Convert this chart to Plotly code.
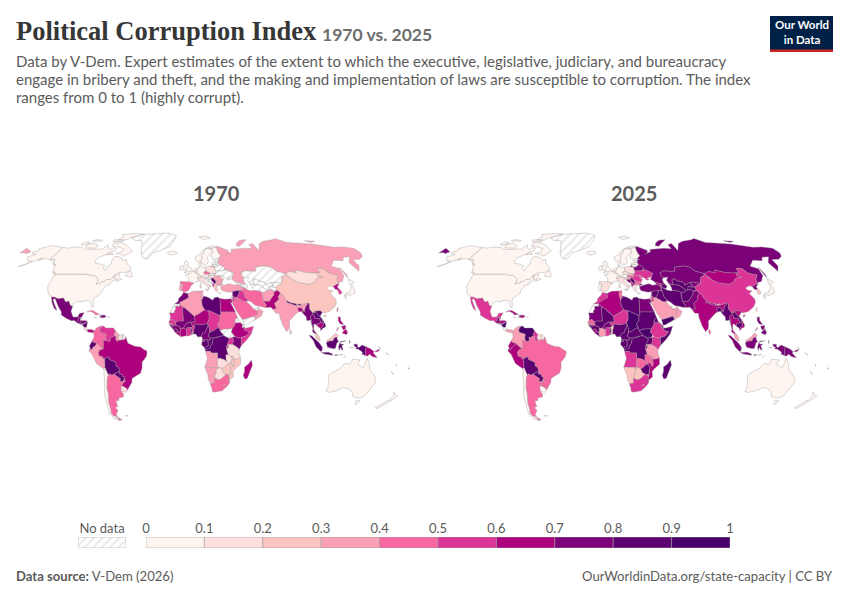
#!/usr/bin/env python3
"""Political Corruption Index, 1970 vs. 2025, as two small world maps"""

import numpy as np
import plotly.graph_objects as go

# Value per country (None = no data)
COUNTRIES = ["USA", "CAN", "GRL", "MEX", "GTM", "BLZ", "HND", "SLV", "NIC", "CRI", "PAN", "CUB", "HTI", "DOM", "JAM", "PRI",
             "COL", "VEN", "GUY", "SUR", "GUF", "ECU", "PER", "BRA", "BOL", "PRY", "CHL", "ARG", "URY", "FLK",
             "ISL", "IRL", "GBR", "FRA", "ESP", "PRT", "BEL", "NLD", "DEU", "DNK", "CHE", "AUT", "ITA", "POL", "CZE", "SVK",
             "HUN", "SVN", "HRV", "BIH", "SRB", "MNE", "MKD", "ALB", "GRC", "BGR", "ROU", "MDA", "UKR", "BLR", "LTU", "LVA",
             "EST", "NOR", "SWE", "FIN", "TUR", "GEO", "ARM", "AZE", "RUS", "KAZ", "UZB", "TKM", "KGZ", "TJK", "AFG", "PAK",
             "IRN", "IRQ", "SYR", "LBN", "ISR", "JOR", "SAU", "YEM", "OMN", "ARE", "KWT", "QAT", "IND", "NPL", "BTN", "BGD",
             "LKA", "CHN", "TWN", "MNG", "PRK", "KOR", "JPN", "MMR", "THA", "LAO", "VNM", "KHM", "MYS", "IDN", "PNG", "PHL",
             "SLB", "VUT", "NCL", "FJI", "AUS", "NZL",
             "MAR", "ESH", "MRT", "DZA", "TUN", "LBY", "EGY", "SDN", "TCD", "NER", "MLI", "SEN", "GMB", "GNB", "GIN", "SLE",
             "LBR", "CIV", "GHA", "BFA", "TGO", "BEN", "NGA", "CMR", "CAF", "GNQ", "GAB", "COG", "COD", "UGA", "RWA", "BDI",
             "KEN", "TZA", "SSD", "ETH", "ERI", "DJI", "SOM", "AGO", "ZMB", "MWI", "MOZ", "ZWE", "BWA", "NAM", "ZAF", "LSO",
             "SWZ", "MDG"]
VALUES_1970 = [.05, .05, None, .75, .75, None, .75, .75, .85, .15, .65, .45, .85, .7, .45, None,
               .45, .55, .35, .15, .05, .85, .35, .65, .85, .85, .05, .45, .15, None,
               .05, .05, .05, .05, .45, .35, .05, .05, .05, .05, .05, .05, .15, .15, .45, None,
               .15, None, None, None, .85, None, None, .55, .25, .35, .35, None, None, None, None, None,
               None, .05, .05, .05, .35, None, None, None, .35, None, None, None, None, None, .35, .65,
               .45, .55, .85, .55, .15, .55, .45, None, .35, None, None, None, .35, .85, .85, .65,
               .25, .25, .45, .15, .65, .55, .05, .75, .75, .85, .85, .65, .25, .85, .65, .65,
               None, None, .05, .4, .05, .05,
               .75, None, .55, .35, .35, .85, .65, .45, .55, .65, .75, .55, .45, .75, .75, .75,
               .65, .65, .55, .75, .75, .55, .85, .75, .85, .75, .85, .85, .85, .55, .55, .55,
               .75, .15, None, .65, None, None, .55, .35, .15, .25, .25, .25, .15, .35, .45, .35,
               .3, .65]
VALUES_2025 = [.05, .05, None, .55, .75, .35, .65, .55, .95, .05, .35, .65, .75, .6, .45, None,
               .35, .95, .55, .15, .05, .65, .65, .45, .85, .85, .05, .45, .05, None,
               .05, .05, .05, .05, .15, .05, .05, .05, .05, .05, .05, .05, .1, .1, .1, .25,
               .45, .05, .25, .75, .85, .55, .65, .65, .15, .45, .55, .45, .55, .75, .05, .05,
               .05, .05, .05, .05, .75, .6, .55, .8, .75, .75, .8, .85, .75, .85, .85, .75,
               .8, .8, .8, .7, .3, .5, .35, .95, .3, .3, .3, .3, .65, .6, .25, .85,
               .4, .55, .05, .65, .75, .25, .05, .85, .65, .85, .6, .85, .35, .75, .75, .75,
               .6, .35, .05, .35, .05, .05,
               .55, None, .75, .65, .45, .85, .75, .85, .95, .55, .85, .4, .55, .85, .85, .6,
               .7, .3, .5, .75, .85, .25, .85, .85, .8, .95, .8, .85, .85, .8, .5, .8,
               .55, .35, .9, .55, .85, .8, .8, .55, .45, .4, .65, .85, .25, .25, .55, .4,
               .8, .85]

# Country outlines: "lon,lat lon,lat ..." one string per landmass (no map files can be fetched)
OUTLINES = {
    "USA": ["-124.7,48.4 -123,49 -95.2,49 -94.6,48.7 -92,48.3 -89.6,48 -88.4,48.3 -84.9,46.9 -84.5,46.5 -83.5,46 -82.5,45.3 -82.1,43.5 -82.5,42.6 -83.1,42 -82.7,41.7 -79,42.7 -79,43.4 -76.5,43.6 -76.3,44.2 -75,45 -71.5,45 -70.8,45.4 -70,46.7 -69.2,47.4 -68.3,47.3 -67.8,47 -67.8,45.7 -67,44.9 -70,43.7 -70.8,42.8 -70,41.7 -72,41.2 -74,40.6 -74.2,39.6 -75.5,38.2 -76,37 -75.7,35.4 -77.8,34 -79.2,33.1 -81.2,31.5 -81.4,30.3 -80.2,26.8 -80.4,25.2 -81.2,25.3 -82.7,27.8 -82.8,29 -84.2,30 -85.6,29.8 -88,30.3 -89.5,30.2 -89.3,29.1 -91,29.2 -94,29.6 -97,28 -97.2,26 -99.2,26.5 -101.4,29.7 -103,29 -104.5,29.6 -106.5,31.8 -108.2,31.8 -108.2,31.3 -111,31.3 -114.8,32.5 -117.1,32.5 -118.4,34 -120.6,34.6 -122,36.8 -123.8,39.5 -124.3,40.4 -124,43 -124,46.2",
            "-141,69.6 -141,60.3 -139,60 -135.5,59.7 -133.5,57 -130,55.9 -131.5,55.3 -134.5,57.5 -137,58.5 -140,59.7 -146,60.7 -149,60.2 -151.7,59.2 -150,61.2 -154,58.8 -157,57.6 -162,55 -164.8,54.6 -160,56.3 -157.5,58.7 -162,59 -165,61 -166,62 -161,64 -166,64.6 -168,65.6 -163,66.5 -166,68.5 -162,70 -156.5,71.3 -150,70.5",
            "-156,20.2 -155,19.6 -155.8,19 -156,19.7"],
    "CAN": ["-141,69.6 -135,69 -128,70 -120,69.5 -115,68 -108,68 -100,68 -96,68.3 -94,72 -90,69 -87,68 -85,69.5 -81.5,69 -81,67 -87,64.5 -93,61.5 -94.7,58.9 -92.5,57 -88,56.5 -82.5,55.2 -82.2,52.9 -79.5,51.4 -79,54.5 -76.7,56.5 -78.3,58.7 -77.5,62.4 -73,62 -69.5,61 -66,58.8 -64.5,60.3 -61.5,56.5 -57.5,54.5 -55.7,52.5 -60,50.2 -66.5,50.2 -70,47.4 -65,49.2 -64.5,48 -65,47 -64,46 -61,45.2 -66,43.6 -64.8,45.3 -67,44.9 -67.8,45.7 -67.8,47 -68.3,47.3 -69.2,47.4 -70,46.7 -70.8,45.4 -71.5,45 -75,45 -76.3,44.2 -76.5,43.6 -79,43.4 -79,42.7 -82.7,41.7 -83.1,42 -82.5,42.6 -82.1,43.5 -82.5,45.3 -83.5,46 -84.5,46.5 -84.9,46.9 -88.4,48.3 -89.6,48 -92,48.3 -94.6,48.7 -95.2,49 -123,49 -124.7,49.8 -127.5,51 -130,54.5 -130,55.9 -133.5,57 -135.5,59.7 -139,60 -141,60.3",
            "-123.4,48.4 -125,48.8 -128.3,50.7 -125.5,50.3", "-59.3,47.6 -53,46.7 -52.8,47.7 -55.5,51.5 -57.5,50.7",
            "-62,66.5 -68,62.5 -72,63.8 -78,64.5 -73,66 -73,68.5 -80,70 -88,71 -89,73.5 -80,73.7 -72,71.5 -67,69",
            "-105,69 -115,69.2 -117,70.5 -118,72.5 -110,73 -104,71", "-125,71.9 -120,71.5 -116,73.3 -119,74.3 -124,74",
            "-62,82.5 -75,83 -90,81.8 -85,79.5 -88,76.5 -78,76.3 -76,78 -70,80", "-80,74.8 -92,74.8 -92,76.5 -80,75.8",
            "-106,75 -117,75.2 -115,76.5 -106,76", "-80,64 -87,63.5 -85,65.5"],
    "GRL": ["-73,78.2 -66,81 -60,82 -45,82.5 -32,83.5 -22,82 -18,80 -19,76 -22,72 -22,70.5 -27,68.5 -33,66.8 -40,65 -43,60 -48,61 -52,65 -54,70 -58,75.5 -68,76"],
    "MEX": ["-117.1,32.5 -114.8,32.5 -111,31.3 -108.2,31.3 -108.2,31.8 -106.5,31.8 -104.5,29.6 -103,29 -101.4,29.7 -99.2,26.5 -97.2,26 -97.8,22.5 -95.8,18.8 -94.5,18.2 -91.5,18.6 -90.5,21 -87,21.5 -87.7,18.5 -88.3,18.5 -89.1,17.9 -91,17.8 -91,16 -92.2,14.6 -94,16 -96.5,15.7 -101,17.5 -105.5,20 -105.6,22 -109.2,26 -113,31 -114.7,31.5 -114.5,30 -110,24 -109.5,23 -112,24.5 -115,28.5 -116.5,31.5"],
    "GTM": ["-92.2,14.6 -91,16 -91,17.8 -89.1,17.9 -89.2,15.9 -88.2,15.7 -89.3,14.4 -90.1,13.8"],
    "BLZ": ["-89.1,17.9 -88.3,18.5 -88.2,16.5 -89.2,15.9"],
    "HND": ["-89.2,15.9 -88.2,15.7 -85,16 -83.2,15 -84.5,14.7 -87.3,13 -87.8,13.2 -87.8,13.9 -89.3,14.4"],
    "SLV": ["-90.1,13.8 -89.3,14.4 -87.8,13.9 -87.8,13.2 -89.5,13.4"],
    "NIC": ["-87.3,13 -84.5,14.7 -83.2,15 -83.7,11 -85.7,11.1"],
    "CRI": ["-85.7,11.1 -83.7,11 -82.6,9.6 -83,8.3 -85.7,9.9"],
    "PAN": ["-83,8.3 -82.6,9.6 -79.5,9.6 -77.4,8.7 -77.9,7.2 -80.4,7.3 -81.7,7.7"],
    "CUB": ["-84.9,21.9 -82.5,23.1 -80,23 -75,20.7 -74.2,20.2 -77.7,19.9 -78.5,21 -82,22.4"],
    "HTI": ["-74.4,18.4 -72,18.1 -71.7,19.8 -72.8,20 -73.5,19.7 -72.7,18.9"],
    "DOM": ["-72,18.1 -71.4,17.7 -68.4,18.6 -69.9,19.7 -71.7,19.8"],
    "JAM": ["-78.3,18.4 -76.3,17.9 -76.9,18.4"],
    "PRI": ["-67.2,18.5 -65.7,18.3 -66,18 -67.2,18"],
    "COL": ["-77.4,8.7 -75.6,10.6 -72,12.2 -71.3,11.8 -72.9,9.6 -72.3,7.4 -70,7 -67.4,6.2 -67.8,3.8 -67.3,1.7 -70,1.7 -69.5,-0.5 -69.9,-4.2 -70.8,-3.8 -72.9,-2.4 -75.2,-0.1 -77.5,0.4 -78.8,1.4 -77.3,3.9 -77.5,7 -77.9,7.2"],
    "VEN": ["-71.3,11.8 -70,12.1 -68.2,10.6 -66,10.6 -62,10.7 -60,8.5 -60.7,7.5 -61.2,5.9 -60.7,5.2 -63,3.9 -64.5,4 -64,1.8 -65.5,0.8 -67.3,1.7 -67.8,3.8 -67.4,6.2 -70,7 -72.3,7.4 -72.9,9.6"],
    "GUY": ["-60,8.5 -57.2,5.9 -58,4 -56.9,1.9 -58.8,1.2 -59.8,2.3 -59.8,4.5 -60.7,5.2 -61.2,5.9 -60.7,7.5"],
    "SUR": ["-57.2,5.9 -54,5.9 -54.1,3.5 -54.5,2.3 -56.9,1.9 -58,4"],
    "GUF": ["-54,5.9 -51.7,4.2 -52.6,2.4 -54.5,2.3 -54.1,3.5"],
    "ECU": ["-78.8,1.4 -77.5,0.4 -75.2,-0.1 -75.5,-1.5 -78.3,-3.4 -79,-5 -80.4,-4.4 -80.3,-3.4 -81,-2.2 -80,0"],
    "PER": ["-80.4,-4.4 -79,-5 -78.3,-3.4 -75.5,-1.5 -75.2,-0.1 -72.9,-2.4 -70.8,-3.8 -69.9,-4.2 -72.9,-5.1 -73.9,-7.3 -73,-9.4 -70.5,-9.5 -70.5,-11 -69,-11 -69.2,-15.3 -69.4,-17.5 -70.4,-18.3 -76,-14.5 -79,-8 -81.3,-5.8 -81.3,-4.3"],
    "BRA": ["-51.7,4.2 -50,1 -50,-0.2 -44.5,-2.3 -40,-2.8 -37,-4.8 -35,-5.5 -34.8,-7.5 -35.4,-9.5 -37.5,-12 -39,-13.5 -39.2,-17.5 -40.8,-21.5 -44,-23 -48,-25.2 -48.6,-28 -52,-32.2 -53.4,-33.7 -53.2,-32.5 -55.6,-30.9 -57.6,-30.2 -55,-27.5 -53.8,-27.1 -54.6,-25.6 -54.3,-24 -55.4,-24 -55.8,-22.3 -58,-22 -57.9,-20 -58.2,-17.3 -60.2,-16.3 -60.3,-13.7 -65.3,-11.7 -65.4,-9.8 -69,-11 -70.5,-11 -70.5,-9.5 -73,-9.4 -73.9,-7.3 -72.9,-5.1 -69.9,-4.2 -69.5,-0.5 -70,1.7 -67.3,1.7 -65.5,0.8 -64,1.8 -64.5,4 -63,3.9 -60.7,5.2 -59.8,4.5 -59.8,2.3 -58.8,1.2 -56.9,1.9 -54.5,2.3 -52.6,2.4"],
    "BOL": ["-69,-11 -65.4,-9.8 -65.3,-11.7 -60.3,-13.7 -60.2,-16.3 -58.2,-17.3 -57.9,-20 -62.6,-22.2 -64.3,-22.8 -66.3,-21.8 -67.2,-22.8 -68.6,-19.8 -69.4,-17.5 -69.2,-15.3"],
    "PRY": ["-57.9,-20 -58,-22 -55.8,-22.3 -55.4,-24 -54.3,-24 -54.6,-25.6 -55.8,-27.4 -58.6,-27.3 -57.6,-25.3 -60,-24 -62.6,-22.2"],
    "CHL": ["-69.4,-17.5 -68.6,-19.8 -67.2,-22.8 -68.3,-24.5 -70,-32 -70,-36 -71.7,-42 -72,-47 -73,-50 -72,-52 -68.4,-52.3 -71,-53.6 -68.6,-53 -68.6,-54.9 -67,-55.5 -72,-54 -75,-51 -74,-44 -73.5,-37 -71.5,-30 -70.4,-18.3"],
    "ARG": ["-66.3,-21.8 -64.3,-22.8 -62.6,-22.2 -60,-24 -57.6,-25.3 -58.6,-27.3 -55.8,-27.4 -54.6,-25.6 -53.8,-27.1 -55,-27.5 -57.6,-30.2 -58.2,-32 -58.4,-34 -57,-36.5 -57.7,-38.2 -62,-39 -62.2,-40.8 -65,-41 -65,-45 -67.5,-46 -65.8,-47.8 -69,-51 -68.4,-52.3 -72,-52 -73,-50 -72,-47 -71.7,-42 -70,-36 -70,-32 -68.3,-24.5 -67.2,-22.8",
            "-68.4,-52.8 -65.2,-54.8 -68.6,-54.9"],
    "URY": ["-57.6,-30.2 -55.6,-30.9 -53.2,-32.5 -53.4,-33.7 -54.9,-35 -58.4,-34 -58.2,-32"],
    "FLK": ["-61,-51.8 -58,-51.5 -59,-52.2"],
    "ISL": ["-24,65.5 -22,66.4 -16,66.5 -13.6,65 -18.7,63.4 -22.7,63.9"],
    "IRL": ["-10,51.8 -6.2,52.2 -6,53.5 -6.2,54.1 -7.3,55.2 -10,54.2"],
    "GBR": ["-5.7,50 -1,50.7 1.4,51.2 1.7,52.7 0,53.5 -1.5,55 -2,56 -2,57.6 -3.5,58.6 -5,58.6 -6,56.7 -3,54.9 -3,53.4 -4.7,52.8 -5,51.7 -3,51.4",
            "-6.2,54.1 -5.5,54.5 -6.3,55.2 -7.3,55.2"],
    "FRA": ["-1.8,43.4 3.2,42.4 4.5,43.4 7.5,43.8 7,45.9 6,46.3 7.6,47.6 8.2,49 6.2,49.5 4.2,50 2.5,51.1 1.6,50.8 0,49.5 -1.8,49.7 -1.5,48.7 -4.7,48.5 -1.2,46.1",
            "8.6,42.3 9.4,41.5 9.5,43"],
    "ESP": ["-9,43.7 -1.8,43.4 3.2,42.4 0.5,40.6 -0.3,38.8 -2,36.8 -5.4,36.1 -7.4,37.2 -7,38.2 -7,39.7 -6.5,41.8 -8.8,41.9"],
    "PRT": ["-8.8,41.9 -6.5,41.8 -7,39.7 -7,38.2 -7.4,37.2 -8.9,37 -9.5,38.8"],
    "BEL": ["2.5,51.1 4.2,50 6.2,49.5 6.2,50.6 5.8,51.2 3.4,51.4"],
    "NLD": ["3.4,51.4 5.8,51.2 7,52.3 7.1,53.4 5,53.3 4,52"],
    "DEU": ["6.2,50.6 5.8,51.2 7,52.3 7.1,53.4 8.7,53.9 8.6,54.9 11,54 14.2,53.9 14.7,51 12.2,50.3 13.8,48.7 10,47.4 7.6,47.6 8.2,49 6.2,49.5"],
    "DNK": ["8.1,55.6 8.6,54.9 10,54.8 10.5,56.3 10.6,57.7 8.3,57"],
    "CHE": ["6,46.3 7,45.9 10.4,46.6 9.5,47.5 7.6,47.6"],
    "AUT": ["9.5,47.5 10.4,46.9 13,46.6 16.2,46.8 17,48.1 15,49 13.8,48.7 10,47.4"],
    "ITA": ["7,45.9 7.5,43.8 8.8,44.4 10.5,42.9 15,40.2 16,38 17,39 16.5,40 18.4,40 16,41.8 13.5,43.6 12.4,44.5 13.7,45.6 13,46.6 10.4,46.9 10.4,46.6",
            "12.5,38 15.6,38.2 15.1,36.7", "8.3,41 9.7,41 9.6,39.1 8.5,39"],
    "POL": ["14.2,53.9 18.5,54.8 19.7,54.4 23,54.4 23.6,51.7 24,50.5 22.6,49.1 19,49.4 14.7,51"],
    "CZE": ["12.2,50.3 14.7,51 19,49.4 17,48.7 15,49 13.8,48.7"],
    "SVK": ["19,49.4 22.6,49.1 22.2,48.4 18.8,47.9 17,48.1 17,48.7"],
    "HUN": ["17,48.1 18.8,47.9 22.2,48.4 22,47.4 20.3,46.2 18.8,45.9 16.2,46.8"],
    "SVN": ["13.7,45.6 15.5,45.5 16.2,46.8 13,46.6"],
    "HRV": ["13.7,45.6 15.5,45.5 16.2,46.8 18.8,45.9 19,45 16,45.2 15.8,44.4 17.6,43 18.5,42.5 15.2,44 14,45"],
    "BIH": ["16,45.2 19,45 19.3,43.6 18.5,42.5 17.6,43 15.8,44.4"],
    "SRB": ["18.8,45.9 20.3,46.2 22.4,44.5 22.9,43.2 22.4,42.3 20.6,41.9 20.6,42.9 19.3,43.6 19,45"],
    "MNE": ["19.3,43.6 20.6,42.9 19.3,41.9 18.5,42.5"],
    "MKD": ["20.6,41.9 22.4,42.3 23,41.3 20.9,40.9"],
    "ALB": ["19.3,41.9 20.6,42.9 20.6,41.9 20.9,40.9 20,39.7 19.3,40.5"],
    "GRC": ["20,39.7 20.9,40.9 23,41.3 26.3,41.7 26,40.8 23.5,40.2 22.8,39 24,38 23,36.5 21.7,36.8 21.1,38.3", "23.6,35.5 26.3,35.2 24.7,34.9"],
    "BGR": ["22.7,44.2 25.5,43.7 28.6,43.7 27.5,42.5 28,42 26.3,41.7 23,41.3 22.4,42.3 22.9,43.2"],
    "ROU": ["22.9,48 24.8,47.8 26.6,48.2 28.2,45.5 29.7,45.2 28.6,43.7 25.5,43.7 22.7,44.2 22.4,44.5 20.3,46.2 22,47.4"],
    "MDA": ["26.6,48.2 28,48.2 30,46.4 28.2,45.5"],
    "UKR": ["22.2,48.4 22.6,49.1 24,50.5 23.6,51.5 30,51.4 34,52.2 40,49.6 38,47.1 35,46 33.5,46 36,45.2 33.5,44.5 32.5,45.5 30.8,46.5 30,46.4 28,48.2 26.6,48.2 24.8,47.8 22.9,48"],
    "BLR": ["23.6,51.5 23.5,53.5 23,54.4 25.7,54.3 26.8,55.3 28.2,56 31,55 32.7,53.4 31.5,52.1 30,51.4"],
    "LTU": ["21,55.3 21,56.1 25,56.4 26.8,55.3 25.7,54.3 23,54.4"],
    "LVA": ["21,56.1 21.6,57.6 24.3,57.2 24.4,57.9 27.5,57.6 28.2,56 26.8,55.3 25,56.4"],
    "EST": ["24.4,57.9 23.5,59.2 28,59.5 27.5,57.6"],
    "NOR": ["5,61 5.5,59 7,58 10.7,59 12,61 12,63.5 14,65 16,68 20,69 25,69 29,69.7 31,70.3 26,71 20,70 14,67.5 10,64 5,62",
            "11,79 16,76.7 25,78 20,80"],
    "SWE": ["10.7,59 12.8,55.5 14.3,55.5 16.5,56.5 18,59 17,61 21,64.5 24,65.8 23.5,67.9 20,69 16,68 14,65 12,63.5 12,61"],
    "FIN": ["24,65.8 21.5,63 21.5,61 23,60 28,60.5 31.5,62.8 29.5,66 29,69.7 25,69 20,69 23.5,67.9"],
    "TUR": ["26.3,40 29,41 31,41.2 35,42 38,41 41.5,41.5 43.5,41 44.8,39.7 44.8,37.2 42.3,37.2 38,36.8 36.6,36.3 36,36.6 33,36 30.5,36.4 27.5,37 26.3,38.5",
            "26,40.8 26.3,41.7 28,42 29,41.2"],
    "GEO": ["40,43.4 44,42.6 46.6,41.8 45,41.2 43.5,41 41.5,41.5"],
    "ARM": ["43.5,41 45,41.2 46.5,39 44.8,39.7"],
    "AZE": ["46.6,41.8 48.6,41.8 50.3,40.3 48.9,38.4 46.5,39 45,41.2"],
    "RUS": ["28,59.5 30,60 28,60.5 31.5,62.8 29.5,66 29,69.7 31,70.3 41,67 40,64.7 37,64 44,66 44,68 54,68.5 60,69 68,68.5 67,72 72,73 74,67 80,73 87,75 100,76.5 105,77.7 113,74 125,73.5 140,72.5 160,69.7 170,70 180,68.9 180,65 177,62.5 170,60 163,59.8 163,57.8 162,55 157,51 155.6,55.5 156,57.5 163,62 156,61.7 152,59 143,59.3 135,54.8 141,53 140,48 135,43.6 132,43 130.7,42.3 131,45 135,48.4 130.8,48.8 127.5,50 125.5,53 120,53.3 119.8,50 116.7,49.8 113,49.8 106,50.3 102,51.3 98.8,52 98,50 92,50.8 87.8,49.2 85,50 80,51 77,54 71,55 62,54 61,51 55,51 51,51.5 47,50 47,48 49,46.3 47.5,45.5 47.7,43 48.6,41.8 46.6,41.8 44,42.6 40,43.4 37,45.2 38,47.1 40,49.6 34,52.2 31.5,52.1 32.7,53.4 31,55 28.2,56 27.5,57.6",
            "-180,68.9 -175,67.5 -170,66 -172.5,64.5 -176,65.4 -180,65", "142,54 143,49 142,46 142,50", "52,71 56,70.7 58,72 68,76.5 60,76 54,73.5",
            "137,75.5 148,75 142,74", "19.7,54.4 23,54.4 21,55.3"],
    "KAZ": ["47,50 51,51.5 55,51 61,51 62,54 71,55 77,54 80,51 85,50 87.3,49 85,47 83,47 80.2,42.2 74,43.2 71,42.7 66,41 66,43 61,44 58,45.5 56,45 56,41.3 53,42 52.7,41.5 51,44.6 53,46.8 49,46.3 47,48"],
    "UZB": ["56,45 58,45.5 61,44 66,43 66,41 71,42.7 73,40.8 71,40.2 68.5,40 67.5,37.3 66,37.3 61,41 56,41.3"],
    "TKM": ["53,42 56,41.3 61,41 66,37.3 64.5,36.2 61,35.6 60.3,36.6 54,37.3 53.8,39.5 52.7,41.5"],
    "KGZ": ["71,42.7 74,43.2 80.2,42.2 74,39.6 71,39.5 71,40.2 73,40.8"],
    "TJK": ["68.5,40 71,40.2 71,39.5 74,39.6 75,37.3 71.5,36.7 70,38 67.5,37.3"],
    "AFG": ["61,35.6 64.5,36.2 66,37.3 67.5,37.3 70,38 71.5,36.7 75,37.3 71.5,36 71,34 69.5,33 66.5,30 66.5,29.5 61,29.5 60.8,34"],
    "PAK": ["61,29.5 66.5,29.5 66.5,30 69.5,33 71,34 71.5,36 75,37.3 77,35.5 74,32.5 74.6,31 70,28 71,24.5 68,23.7 66.5,25.4 61.6,25.1 63,27"],
    "IRN": ["44.8,39.7 46.5,39 48.9,38.4 50,37.4 54,36.9 54,37.3 60.3,36.6 61,35.6 60.8,34 61,29.5 63,27 61.6,25.1 57,26 54,26.6 50.8,29 48.6,30 46,33 45.5,35.8 44.8,37.2"],
    "IRQ": ["42.3,37.2 44.8,37.2 45.5,35.8 46,33 48.6,30 47.7,30 46.5,29 44.7,29.2 39,32.2 41,34.5"],
    "SYR": ["36,36.6 36.6,36.3 38,36.8 42.3,37.2 41,34.5 39,32.2 36,32.7 35.8,34.7"],
    "LBN": ["35.8,34.7 36.5,34.5 35.8,33.2 35.1,33.1"],
    "ISR": ["35.1,33.1 35.8,33.2 35.8,32.7 35.5,31 35,29.5 34.2,31.3"],
    "JOR": ["35.8,32.7 36,32.7 39,32.2 37,31.4 37.5,30 36,29.2 35,29.5 35.5,31"],
    "SAU": ["35,29.5 36,29.2 37.5,30 37,31.4 39,32.2 44.7,29.2 46.5,29 47.7,28.5 50,26.5 50.8,24.8 51.5,24.2 55.5,22.7 55,20 52,19 48.8,18.2 46,17.3 43.2,16.7 42.5,16.4 39,21 37,25 35,28"],
    "YEM": ["42.5,16.4 43.2,16.7 46,17.3 48.8,18.2 52,19 53,16.6 48,14 45,12.8 43.5,12.7"],
    "OMN": ["52,19 55,20 55.5,22.7 56.3,24.9 56.8,24 59.8,22.5 57.7,19 54,17 53,16.6"],
    "ARE": ["51.5,24.2 55.5,22.7 56.3,24.9 56,25.8 54,24.2"],
    "KWT": ["46.5,29 47.7,28.5 48.3,29.5 47.7,30"],
    "QAT": ["50.8,24.8 51.5,25 51.3,26 50.8,26"],
    "IND": ["74.6,31 74,32.5 77,35.5 78.8,34 79,32.5 81,30 80.2,28.8 88,26.4 88.8,27.3 89,26.8 92,26.9 97,28.3 97.2,27.5 95,25.5 93.4,22 92.3,23.7 91.5,25 88.3,24.8 89,22 87,21.3 85,19.5 80.3,15.5 80.2,13 79.8,10.3 77.5,8 75,12 73,18 72.8,21 70,21 69,22.5 68,23.7 71,24.5 70,28"],
    "NPL": ["80.2,28.8 81,30 84,28.5 88.2,27.9 88,26.4"],
    "BTN": ["89,26.8 88.8,27.3 91.6,27.9 92,26.9"],
    "BGD": ["88.3,24.8 91.5,25 92.3,23.7 92.3,20.8 91,22.5 89,22"],
    "LKA": ["79.8,8.5 80.5,9.7 81.8,7.5 80.5,6"],
    "CHN": ["74,39.6 80.2,42.2 83,47 85,47 87.3,49 91,46 91,45.2 96,42.8 105,41.6 111,43.7 112,45 116,46.8 119.8,46.7 116,47.8 116.7,49.8 119.8,50 120,53.3 125.5,53 127.5,50 130.8,48.8 135,48.4 131,45 130.7,42.3 128,41.5 124.3,40 122,40.5 118,39 119,37.3 122.5,37 119,35 122,31 121.5,28.5 119,25.5 114,22.3 110,21.4 108,21.6 106.7,22.9 102,22.4 101.7,21.2 100,21.5 98,24 98.7,28 97,28.3 92,26.9 91.6,27.9 88.8,27.3 88.2,27.9 84,28.5 81,30 79,32.5 78.8,34 77,35.5 75,37.3",
            "108.7,19.3 110.5,20 111,19.6 109.5,18.2"],
    "TWN": ["120.2,23 121.5,25.2 122,25 120.8,22"],
    "MNG": ["87.8,49.2 92,50.8 98,50 98.8,52 102,51.3 106,50.3 113,49.8 116.7,49.8 116,47.8 119.8,46.7 116,46.8 112,45 111,43.7 105,41.6 96,42.8 91,45.2 91,46 87.3,49"],
    "PRK": ["124.3,40 128,41.5 130.7,42.3 129.7,41 127.5,39.8 128.4,38.6 126.7,37.8 125,38"],
    "KOR": ["126.7,37.8 128.4,38.6 129.4,37 129.2,35.2 126.5,34.4 126.5,37"],
    "JPN": ["130.9,34 132.5,35.4 136,35.8 137,37.3 139.5,38.5 140,40.5 141.3,41.3 142,39.5 140.8,36 139.8,35 136.8,34.5 135.5,33.6 133,34.3",
            "130,33.5 131.7,33.5 131.3,31.4 130.2,31.3", "140,41.6 141.6,45.4 145.3,43.3 143,42"],
    "MMR": ["92.3,20.8 92.3,23.7 93.4,22 95,25.5 97.2,27.5 97,28.3 98.7,28 98,24 100,21.5 100.5,21.5 100,20.3 97.8,18.6 98.5,16 98.2,14 99,11 98.7,10.3 97.5,16.5 95.5,15.8 94.3,16.1 94.5,18.5"],
    "THA": ["100,20.3 101.2,19.5 101,17.5 104.7,17.5 105.5,15.5 105.5,14.3 102.5,13.5 102.9,11.7 100.9,13.5 100,13.4 99.3,10 100.2,8 101.9,6.5 100.2,6.6 98.3,8 99,11 98.2,14 98.5,16 97.8,18.6"],
    "LAO": ["101.7,21.2 102,22.4 104,20.5 106.6,17.5 107.5,15.5 107.5,14.5 105.5,14.3 105.5,15.5 104.7,17.5 101,17.5 101.2,19.5 100,20.3 100.5,21.5"],
    "VNM": ["102,22.4 106.7,22.9 108,21.6 105.8,19 107.5,16.5 109.3,13 109,11.3 106.7,10.4 105,8.7 104.8,10.4 106,11 107.5,13 107.5,15.5 106.6,17.5 104,20.5"],
    "KHM": ["102.9,11.7 102.5,13.5 105.5,14.3 107.5,14.5 107.5,13 106,11 104.8,10.4"],
    "MYS": ["100.2,6.6 101.9,6.5 103.4,4.7 104.2,1.5 103.4,1.4 101,3.2", "109.6,2 111.3,2.6 114,4.6 116.8,7 119,5.2 117.7,4.2 115.5,3.5 114.5,1.5 112.3,1.5 110,0.9"],
    "IDN": ["95.3,5.5 97.5,5.2 103.5,0 106,-3 105.8,-5.8 104.5,-5.8 101,-2.8 98.7,1.7", "105.2,-6.8 108.5,-6.5 111,-6.5 114.4,-7.8 114.4,-8.7 108,-7.8",
            "109,0 110,0.9 112.3,1.5 114.5,1.5 115.5,3.5 117.7,4.2 118,2.3 119,1 117.5,0 116.5,-3.8 114.6,-4 110.2,-3",
            "119.7,-5.5 120.4,-3 121.5,-4.7 122.7,-5 121.5,-1.8 123.3,-0.9 120.5,-0.7 120.5,0.6 125,1.6 120.8,1.3 119.8,0 118.9,-2.8",
            "116,-8.4 119,-8.4 117,-9", "119.9,-8.5 122.9,-8.2 120.2,-8.9", "123.5,-10.3 125,-9.2 124,-10", "127.5,1.8 128,-0.5 128.2,1.5", "128,-3.2 130.8,-3.5 128,-3.5",
            "131,-0.8 134,-0.8 134.2,-2.5 135,-3.3 137.8,-1.5 141,-2.6 141,-9.1 139,-8 138,-8.3 138.5,-6.5 135,-4.5 132.7,-4 133.5,-3 132,-2.7"],
    "PNG": ["141,-2.6 145,-4.3 147.8,-6.2 147,-7 150.7,-10.4 147,-9.8 144,-7.8 143,-9.2 141,-9.1", "148.5,-5.6 152.2,-4.2 151,-6 148.5,-6.2", "150.8,-2.7 152.8,-4 152,-3.5"],
    "PHL": ["120.5,18.5 122.2,18.5 122,16 124,13 121,13.7 120,16", "122,7 123.5,8.7 125.5,9.8 126.5,7.5 125.5,5.8 124,6.5", "122,11.8 125.5,12.5 125,10 123,9.2", "117.2,8.4 119.5,11.3 119,9.7"],
    "SLB": ["157,-7 160,-8.5 159,-8.3"],
    "VUT": ["166.8,-15 167.5,-16.5 166.7,-16"],
    "NCL": ["164,-20.2 167,-22.2 165.5,-21.8"],
    "FJI": ["177.3,-17.5 178.6,-18 177.3,-18.2"],
    "AUS": ["113.7,-22.5 114.2,-26 115.7,-32 115,-34.3 118,-35 123.5,-33.9 129,-31.6 134,-32.5 137.7,-35.1 140,-38 143.5,-38.8 146.4,-39.1 150,-37.4 151,-34 153.6,-28.6 153,-25 149,-21 146,-19 145.3,-15 142.5,-10.8 141.7,-14 140.8,-17.5 135.5,-15 137,-12 131,-11.5 129.5,-15 125,-14.5 122,-18 117,-20.6",
            "144.7,-40.7 148.3,-40.9 147.5,-43.4 146,-43.5"],
    "NZL": ["172.8,-34.5 175.5,-36.5 178.5,-37.7 177,-39.7 175,-41.5 174,-39.5 174.8,-37", "172.7,-40.5 174.2,-41.7 171,-45 169,-46.6 166.5,-46 168.5,-44"],
    "MAR": ["-5.9,35.8 -2,35.1 -1.2,32.2 -3.7,30.7 -8.7,28.7 -8.7,27.7 -13,27.7 -10,29.5 -9.8,31.5 -7,33.8"],
    "ESH": ["-13,27.7 -8.7,27.7 -8.7,26 -12,26 -12,23.5 -13,23 -13,21.3 -17,21.3 -15,24.5"],
    "MRT": ["-17,21.3 -13,21.3 -13,23 -12,23.5 -12,26 -8.7,26 -8.7,27.3 -4.8,25 -6.5,25 -5.5,15.5 -9.3,15.5 -12.2,14.8 -14,16.6 -16.5,16.1 -16.2,19"],
    "DZA": ["-2,35.1 2,36.6 8.6,36.9 8.3,34.5 9.5,30.2 9.9,26.5 11.9,23.5 7.5,20.9 3.2,19 1.2,20.8 -4.8,25 -8.7,27.3 -8.7,28.7 -3.7,30.7 -1.2,32.2"],
    "TUN": ["8.6,36.9 10.3,37.3 11,36.5 10.2,34 11.5,33.2 9.5,30.2 8.3,34.5"],
    "LBY": ["11.5,33.2 15.2,32.3 19,30.3 20,32 23,32.6 25,31.6 25,20 24,19.5 15,23 14.2,22.6 11.9,23.5 9.9,26.5 9.5,30.2"],
    "EGY": ["25,31.6 29,31 32,31.2 34.2,31.3 35,29.5 34,28 33,29.5 35.5,24 37,22 25,22"],
    "SDN": ["25,22 37,22 37.3,20.8 38.5,18 36.5,16.7 36.4,14.3 36,12.7 34,10.2 33,10 30,10 27,9.7 24,8.7 23.5,10.5 22.8,12 22,13 22.6,14.5 24,15.7 24,19.5 25,20"],
    "TCD": ["15,23 24,19.5 24,15.7 22.6,14.5 22,13 22.8,12 23.5,10.5 21.7,10.6 18.9,8.8 15.5,7.5 15.5,10 14.5,12.9 13.5,13.6 15.3,17"],
    "NER": ["3.2,19 7.5,20.9 11.9,23.5 14.2,22.6 15,23 15.3,17 13.5,13.6 12,13.2 8.5,13 4,13.5 3.6,11.7 2.4,12.2 1,13.3 0.2,14.9 4,15"],
    "MLI": ["-12.2,14.8 -9.3,15.5 -5.5,15.5 -6.5,25 -4.8,25 1.2,20.8 3.2,19 4,15 0.2,14.9 -2,14.2 -3.5,13.5 -5.5,10.5 -8,10.2 -8.4,11.4 -11.4,12.4"],
    "SEN": ["-17.5,14.7 -16.5,16.1 -14,16.6 -12.2,14.8 -11.4,12.4 -13.7,12.6 -16.7,12.4 -16.8,13.2 -13.8,13.3 -13.8,13.7 -16.6,13.7"],
    "GMB": ["-16.8,13.7 -13.8,13.7 -13.8,13.3 -16.8,13.2"],
    "GNB": ["-16.7,12.4 -13.7,12.6 -13.7,11.7 -15,11 -16,11.8"],
    "GIN": ["-15,11 -13.7,11.7 -13.7,12.6 -11.4,12.4 -8.4,11.4 -8,10.2 -7.8,8.5 -9,7.4 -10.3,8.5 -11,10 -12.5,9.9 -13.3,9.1"],
    "SLE": ["-13.3,9.1 -12.5,9.9 -11,10 -10.3,8.5 -11.5,6.9"],
    "LBR": ["-11.5,6.9 -10.3,8.5 -9,7.4 -8.5,7.5 -7.5,4.4"],
    "CIV": ["-7.5,4.4 -8.5,7.5 -7.8,8.5 -8,10.2 -5.5,10.5 -2.8,9.5 -3,5.1"],
    "GHA": ["-3,5.1 -2.8,9.5 -2.8,11 0,11 0.5,8 1.2,6 -1.5,5"],
    "BFA": ["-5.5,10.5 -3.5,13.5 -2,14.2 0.2,14.9 1,13.3 2.4,12.2 0.9,11 0,11 -2.8,11 -2.8,9.5"],
    "TGO": ["0,11 0.9,11 1.6,9 1.7,6.2 1.2,6 0.5,8"],
    "BEN": ["0.9,11 2.4,12.2 3.6,11.7 2.8,9 2.7,6.3 1.7,6.2 1.6,9"],
    "NGA": ["2.7,6.3 2.8,9 3.6,11.7 4,13.5 8.5,13 12,13.2 13.5,13.6 14.5,12.9 13.5,10.5 11.8,7 10,7 8.6,4.6 6,4.3 4.4,6.3"],
    "CMR": ["8.6,4.6 10,7 11.8,7 13.5,10.5 14.5,12.9 15.5,10 15.5,7.5 14.5,5 16,3.6 16,2 13,2.2 9.8,2.3 9.7,3.8"],
    "CAF": ["15.5,7.5 18.9,8.8 21.7,10.6 23.5,10.5 24,8.7 27.4,5.1 25,5 22.5,4.2 19,3.5 18.5,3.5 16,3.6 14.5,5"],
    "GNQ": ["9.8,2.3 11.3,2.2 11.3,1 9.5,1"],
    "GAB": ["9.5,1 11.3,1 11.3,2.2 13,2.2 14.3,1.4 14.5,-2 11.5,-3.5 9,-1"],
    "COG": ["13,2.2 16,2 16,3.6 18.5,3.5 17.8,0 16,-2.5 16.2,-3.5 15.8,-4 12,-5 11.5,-3.5 14.5,-2 14.3,1.4"],
    "COD": ["18.5,3.5 19,3.5 22.5,4.2 25,5 27.4,5.1 30.8,3.5 31.3,2.2 29.6,-0.6 29,-2.7 29.2,-4.4 30.7,-8.2 28.7,-8.5 28.9,-11.9 29.8,-13.4 27,-11.7 24,-11 22,-11 21.8,-7 17,-7 16,-5.9 12.3,-6 12,-5 15.8,-4 16.2,-3.5 16,-2.5 17.8,0"],
    "UGA": ["30.8,3.5 34,4.2 35,1.5 33.9,0 33.9,-1 30.5,-1 29.6,-0.6 31.3,2.2"],
    "RWA": ["29,-2.7 29.6,-1.4 30.5,-1 30.8,-2.3"],
    "BDI": ["29,-2.7 30.8,-2.3 30.5,-3.5 29.2,-4.4"],
    "KEN": ["34,4.2 36,4.5 39,3.5 41,3.9 41,-1.7 39.2,-4.6 37.5,-3 33.9,-1 33.9,0 35,1.5"],
    "TZA": ["33.9,-1 37.5,-3 39.2,-4.6 39,-6.5 39.5,-8 40.4,-10.5 38,-11.3 34.9,-11.5 34.5,-9.5 32.9,-9.4 30.7,-8.2 29.2,-4.4 30.5,-3.5 30.8,-2.3 30.5,-1"],
    "SSD": ["24,8.7 27,9.7 30,10 33,10 34,10.2 33,7.8 34.9,6 34,4.2 30.8,3.5 27.4,5.1"],
    "ETH": ["33,7.8 34,10.2 36,12.7 36.4,14.3 37.5,14.4 39,14.6 40.5,14.5 42.4,12.5 41.8,11 43.3,11.4 43,10.9 44,9 47.9,8 45,5 42,4 41,3.9 39,3.5 36,4.5 34.9,6"],
    "ERI": ["36.5,16.7 38.5,18 39.7,15 43,12.7 42.4,12.5 40.5,14.5 39,14.6 37.5,14.4 36.4,14.3"],
    "DJI": ["42.4,12.5 43.3,12.5 43.3,11.4 41.8,11"],
    "SOM": ["43.3,11.4 44.8,10.5 51.1,11.9 49,6.5 45.5,2.4 41,-1.7 41,3.9 42,4 45,5 47.9,8 44,9 43,10.9"],
    "AGO": ["12.3,-6 16,-5.9 17,-7 21.8,-7 22,-11 24,-11 22,-13 22,-16.2 23.3,-17.6 19,-17.4 13.9,-17.4 11.8,-17.2 13.4,-12.3 13.8,-10.7 12.8,-8"],
    "ZMB": ["22,-11 24,-11 27,-11.7 29.8,-13.4 28.9,-11.9 28.7,-8.5 30.7,-8.2 32.9,-9.4 33.7,-11 33,-14 30.2,-15 28.9,-16 27,-17.9 25.2,-17.8 23.3,-17.6 22,-16.2 22,-13"],
    "MWI": ["32.9,-9.4 34.5,-9.5 34.9,-11.5 35.8,-14.5 35,-17 33,-14 33.7,-11"],
    "MOZ": ["34.9,-11.5 38,-11.3 40.4,-10.5 40.7,-15 36.9,-18 35,-20 35.5,-24 32.9,-26 32.8,-26.8 32,-26.8 32,-24.5 32.5,-22 33,-19.8 32.9,-16.8 30.2,-15 33,-14 35,-17 35.8,-14.5"],
    "ZWE": ["25.2,-17.8 27,-17.9 28.9,-16 30.2,-15 32.9,-16.8 33,-19.8 32.5,-22 31.3,-22.4 29.4,-22.2 27,-21 26,-19"],
    "BWA": ["20,-22 21,-22 21,-18.3 23.3,-17.6 25.2,-17.8 26,-19 27,-21 29.4,-22.2 26.5,-24.7 25,-25.7 22.7,-26 20,-24.8"],
    "NAM": ["11.8,-17.2 13.9,-17.4 19,-17.4 23.3,-17.6 21,-18.3 21,-22 20,-22 20,-28.4 17,-28.8 15,-26 14.4,-22.5"],
    "ZAF": ["16.5,-28.6 17,-28.8 20,-28.4 20,-24.8 22.7,-26 25,-25.7 26.5,-24.7 29.4,-22.2 31.3,-22.4 32,-24.5 32,-26.8 32.8,-26.8 32.5,-28.5 30.5,-31 27,-33.8 25.5,-34 22,-34.2 20,-34.8 18.4,-34 18.2,-32"],
    "LSO": ["27,-29.7 29.2,-29 29.4,-29.6 28,-30.6"],
    "SWZ": ["31,-26 32,-26.5 32,-27.3 31,-27"],
    "MDG": ["49.3,-12 50.4,-15.5 47,-25 45,-25.5 43.5,-23 44.3,-20 44,-17 47,-15"],
}

# Legend
BIN_EDGES = [0, .1, .2, .3, .4, .5, .6, .7, .8, .9, 1]
BIN_COLORS = ["#fff5f0", "#fde0dd", "#fcc5c0", "#fa9fb5", "#f768a1", "#dd3497", "#ae017e", "#7a0177", "#5e0070", "#49006a"]
TICK_LABELS = ["0", "0.1", "0.2", "0.3", "0.4", "0.5", "0.6", "0.7", "0.8", "0.9", "1"]

# Robinson projection table, every 5 degrees of latitude
ROB_LAT = np.arange(0, 95, 5)
ROB_PLEN = [1, .9986, .9954, .99, .9822, .973, .96, .9427, .9216, .8962, .8679, .835, .7986, .7597, .7186, .6732, .6213, .5722, .5322]
ROB_PDFE = [0, .062, .124, .186, .248, .31, .372, .434, .4958, .5571, .6176, .6769, .7346, .7903, .8435, .8936, .9394, .9761, 1]
ROB_R = 84.2

TEXT_COLOR = "#5b5b5b"
BORDER_COLOR = "#9c9a9a"
# The page body keeps its 8px margin, so the figure sits 8px in from the window
PAGE_MARGIN = 8
W, H = 842, 592


def robinson(lon, lat):
    x = 0.8487 * ROB_R * np.radians(lon) * np.interp(np.abs(lat), ROB_LAT, ROB_PLEN)
    y = 1.3523 * ROB_R * np.sign(lat) * np.interp(np.abs(lat), ROB_LAT, ROB_PDFE)
    return x, y


def country_xy(iso):
    xs, ys = [], []
    for part in OUTLINES[iso]:
        pts = np.array([p.split(",") for p in part.split()], dtype=float)
        pts = np.vstack([pts, pts[0]])
        x, y = robinson(pts[:, 0], pts[:, 1])
        xs += list(x) + [None]
        ys += list(y) + [None]
    return xs, ys


def bin_color(value):
    return BIN_COLORS[min(int(np.digitize(value, BIN_EDGES)) - 1, 9)]


def paper_x(px):
    return (px - PAGE_MARGIN) / W


def paper_y(px):
    return 1 - (px - PAGE_MARGIN) / H


def add_text(text, x, y, size, color=TEXT_COLOR, anchor="left", family="Lato, sans-serif"):
    # annotations keep about 2px of padding around their text
    nudge = {"left": -2, "right": 2, "center": 0}[anchor]
    fig.add_annotation(text=text, x=paper_x(x + nudge), y=paper_y(y), xref="paper", yref="paper", xanchor=anchor,
                       yanchor="middle", showarrow=False, font=dict(family=family, size=size, color=color))


fig = go.Figure()

# Maps
for values, xname, yname in [(VALUES_1970, "x", "y"), (VALUES_2025, "x2", "y2")]:
    for iso, value in zip(COUNTRIES, values):
        xs, ys = country_xy(iso)
        style = dict(fillcolor=bin_color(value)) if value is not None else dict(
            fillcolor="rgba(0,0,0,0)", fillpattern=dict(shape="/", fgcolor="#d4d4d4", bgcolor="#ffffff", size=6, solidity=0.35))
        fig.add_trace(go.Scatter(x=xs, y=ys, mode="lines", fill="toself", line=dict(color=BORDER_COLOR, width=0.4),
                                 xaxis=xname, yaxis=yname, hoverinfo="skip", showlegend=False, **style))

# Colour legend
for i, color in enumerate(BIN_COLORS):
    fig.add_trace(go.Bar(x=[BIN_EDGES[i + 1] - BIN_EDGES[i]], base=[BIN_EDGES[i]], y=[0], width=1, orientation="h",
                         marker=dict(color=color, line=dict(color="#9c9a9a", width=0.6)),
                         xaxis="x3", yaxis="y3", hoverinfo="skip", showlegend=False))
fig.add_trace(go.Bar(x=[1], base=[0], y=[0], width=1, orientation="h",
                     marker=dict(color="#ffffff", line=dict(color="#bbbbbb", width=0.8),
                                 pattern=dict(shape="/", fgcolor="#d4d4d4", bgcolor="#ffffff", size=6, solidity=0.35)),
                     xaxis="x4", yaxis="y4", hoverinfo="skip", showlegend=False))

hidden = dict(visible=False, fixedrange=True)
legend_y = dict(domain=[paper_y(548), paper_y(537)], range=[-0.5, 0.5], **hidden)
legend_ticks = dict(side="top", showgrid=False, zeroline=False, showline=False, ticks="", ticklen=0,
                    tickfont=dict(family="Lato, sans-serif", size=13, color=TEXT_COLOR), fixedrange=True)

fig.update_layout(
    width=W, height=H, margin=dict(l=0, r=0, t=0, b=0, autoexpand=False), paper_bgcolor="white", plot_bgcolor="white",
    barmode="overlay", showlegend=False,
    xaxis=dict(domain=[0, paper_x(425)], range=[8 - 190.3, 425 - 190.3], **hidden),
    yaxis=dict(domain=[paper_y(432), paper_y(210)], range=[343 - 432, 343 - 210], **hidden),
    xaxis2=dict(domain=[paper_x(425), paper_x(850)], range=[425 - 609.3, 850 - 609.3], **hidden),
    yaxis2=dict(domain=[paper_y(432), paper_y(210)], range=[343 - 432, 343 - 210], **hidden),
    xaxis3=dict(domain=[paper_x(146), paper_x(730)], range=[0, 1], anchor="y3", tickvals=BIN_EDGES, ticktext=TICK_LABELS, **legend_ticks),
    yaxis3=dict(anchor="x3", **legend_y),
    xaxis4=dict(domain=[paper_x(78), paper_x(126)], range=[0, 1], anchor="y4", tickvals=[0.5], ticktext=["No data"], **legend_ticks),
    yaxis4=dict(anchor="x4", **legend_y),
)

# Header
add_text("<b>Political Corruption Index</b>", 16, 31, 26.5, "#363636", family="Liberation Serif, serif")
add_text("<b>1970 vs. 2025</b>", 322, 34, 17.5, "#6e6e6e")
add_text("Data by V-Dem. Expert estimates of the extent to which the executive, legislative, judiciary, and bureaucracy", 16, 61, 15)
add_text("engage in bribery and theft, and the making and implementation of laws are susceptible to corruption. The index", 16, 79, 15)
add_text("ranges from 0 to 1 (highly corrupt).", 16, 97, 15)

# Logo
fig.add_shape(type="rect", xref="paper", yref="paper", x0=paper_x(770), x1=paper_x(833), y0=paper_y(52), y1=paper_y(16),
              fillcolor="#002147", line_width=0)
fig.add_shape(type="rect", xref="paper", yref="paper", x0=paper_x(770), x1=paper_x(833), y0=paper_y(52), y1=paper_y(49.5),
              fillcolor="#ce261e", line_width=0)
add_text("<b>Our World</b><br><b>in Data</b>", 801.5, 32.5, 11.5, "#ffffff", "center")

# Facet titles
add_text("<b>1970</b>", 216, 193, 20, anchor="center")
add_text("<b>2025</b>", 634, 193, 20, anchor="center")

# Footer
add_text("<b>Data source:</b> V-Dem (2026)", 16, 576, 13.1)
add_text("OurWorldinData.org/state-capacity | CC BY", 833, 576, 13.1, anchor="right")

fig.write_html("out.html")
